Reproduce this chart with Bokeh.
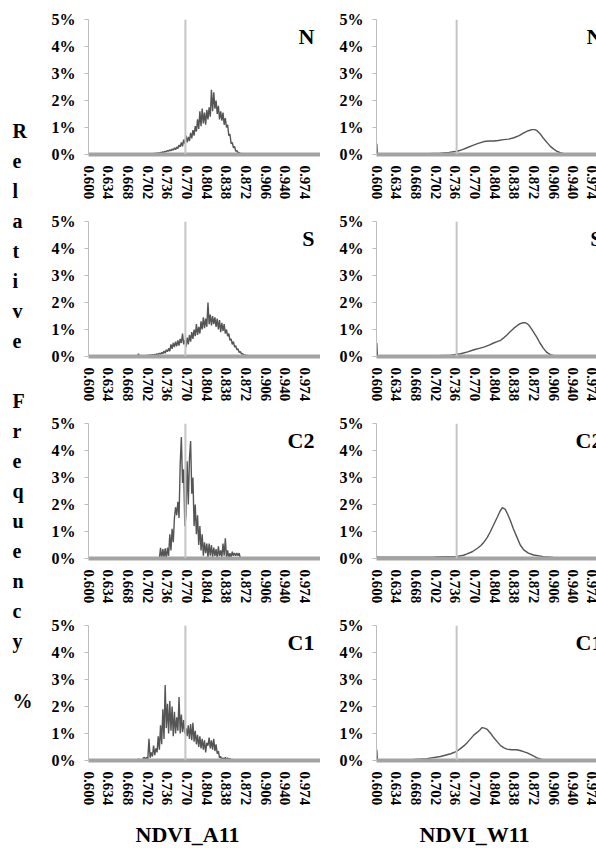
from bokeh.plotting import figure
from bokeh.layouts import row, column
from bokeh.models import Range1d, FixedTicker, PrintfTickFormatter, Span
from bokeh.core.properties import value
from bokeh.embed import file_html
from bokeh.resources import INLINE

SERIF = "Liberation Serif"

# ---------------- data ----------------
x_tick_labels = [0.600, 0.634, 0.668, 0.702, 0.736, 0.770, 0.804, 0.838, 0.872, 0.906, 0.940, 0.974]
y_tick_labels = [0, 1, 2, 3, 4, 5]
panel_names = ["N", "S", "C2", "C1"]
column_titles = ["NDVI_A11", "NDVI_W11"]
mean_a11 = 0.767
mean_w11 = 0.738
bin_step = 0.002

# NDVI_A11 (left column), relative frequency in %, bins of 0.002
a11_n_start = 0.700
a11_n = [0.03, 0.0, 0.03, 0.0, 0.03, 0.02, 0.04, 0.03, 0.05, 0.04, 0.06, 0.05, 0.08, 0.06, 0.10, 0.08,
         0.12, 0.10, 0.15, 0.12, 0.18, 0.14, 0.20, 0.16, 0.25, 0.18, 0.28, 0.22, 0.35, 0.28, 0.45, 0.30,
         0.55, 0.40, 0.70, 0.45, 0.65, 0.50, 0.80, 0.60, 0.90, 0.70, 1.05, 0.85, 1.30, 0.95, 1.60, 1.05,
         1.70, 1.15, 1.55, 1.10, 1.65, 1.30, 1.75, 1.40, 2.40, 1.60, 2.30, 1.70, 2.00, 1.50, 1.80, 1.30,
         1.60, 1.25, 1.55, 1.10, 1.35, 1.00, 1.10, 0.70, 0.75, 0.40, 0.45, 0.25, 0.30, 0.12, 0.15, 0.05,
         0.08, 0.03, 0.04, 0.02, 0.03, 0.01, 0.02, 0.0]

a11_s_start = 0.684
a11_s = [0.0, 0.10, 0.0, 0.01, 0.0, 0.02, 0.01, 0.02, 0.03, 0.05, 0.03, 0.06, 0.04, 0.07, 0.05, 0.08,
         0.06, 0.10, 0.07, 0.12, 0.08, 0.15, 0.10, 0.20, 0.12, 0.25, 0.18, 0.30, 0.20, 0.45, 0.28, 0.50,
         0.35, 0.55, 0.38, 0.60, 0.40, 0.65, 0.50, 0.85, 0.45, 0.60, 0.35, 0.70, 0.45, 0.80, 0.55, 0.90,
         0.65, 1.00, 0.75, 1.20, 0.80, 1.10, 0.85, 1.30, 1.00, 1.45, 1.05, 1.40, 1.10, 2.00, 1.20, 1.55,
         1.15, 1.50, 1.20, 1.45, 1.10, 1.40, 1.00, 1.35, 0.90, 1.25, 0.95, 1.20, 0.85, 1.00, 0.75, 0.85,
         0.60, 0.65, 0.45, 0.55, 0.35, 0.40, 0.25, 0.28, 0.15, 0.18, 0.10, 0.10, 0.05, 0.06, 0.03, 0.04,
         0.02, 0.02, 0.01, 0.01, 0.0]

a11_c2_start = 0.722
a11_c2 = [0.0, 0.40, 0.0, 0.35, 0.05, 0.38, 0.0, 0.40, 0.10, 0.90, 0.30, 1.10, 0.60, 1.50, 1.90, 1.60,
          2.10, 1.50, 3.50, 4.50, 2.80, 3.30, 1.20, 1.60, 3.60, 2.00, 3.70, 4.35, 2.40, 3.00, 1.20, 2.00,
          0.90, 1.60, 0.50, 1.20, 0.30, 0.90, 0.10, 0.60, 0.20, 0.55, 0.05, 0.55, 0.10, 0.50, 0.05, 0.40,
          0.10, 0.35, 0.0, 0.45, 0.10, 0.30, 0.05, 0.55, 0.10, 0.75, 0.05, 0.30, 0.0, 0.20, 0.05, 0.25,
          0.10, 0.20, 0.10, 0.20, 0.10, 0.20, 0.0]

a11_c1_start = 0.684
a11_c1 = [0.0, 0.06, 0.0, 0.0, 0.0, 0.08, 0.12, 0.05, 0.12, 0.05, 0.80, 0.10, 0.30, 0.15, 0.55, 0.20,
          0.45, 0.30, 0.90, 0.40, 1.30, 0.60, 1.90, 0.80, 2.80, 1.20, 2.10, 1.00, 2.20, 1.10, 2.00, 0.90,
          1.80, 1.00, 1.60, 1.10, 2.35, 1.00, 1.70, 1.05, 1.50, 1.00, 1.20, 0.90, 1.30, 0.80, 1.35, 0.75,
          1.40, 0.70, 1.10, 0.60, 0.95, 0.50, 0.90, 0.45, 0.80, 0.40, 0.75, 0.30, 0.65, 0.55, 0.85, 0.45,
          0.75, 0.40, 0.80, 0.35, 0.60, 0.25, 0.35, 0.10, 0.15, 0.03, 0.10, 0.03, 0.12, 0.02, 0.10, 0.02,
          0.08, 0.0, 0.05, 0.0, 0.03, 0.0, 0.0]

# NDVI_W11 (right column), smooth curves read at key points
w11_n_x = [0.600, 0.601, 0.640, 0.664, 0.690, 0.710, 0.725, 0.739, 0.748, 0.756, 0.765, 0.774, 0.785,
           0.795, 0.802, 0.810, 0.819, 0.828, 0.837, 0.846, 0.854, 0.862, 0.868, 0.873, 0.877, 0.883,
           0.888, 0.894, 0.900, 0.906, 0.911, 0.917, 0.923, 0.934, 0.950]
w11_n_y = [0.40, 0.0, 0.01, 0.02, 0.03, 0.05, 0.08, 0.12, 0.18, 0.25, 0.33, 0.40, 0.48,
           0.50, 0.50, 0.52, 0.55, 0.57, 0.62, 0.70, 0.80, 0.88, 0.92, 0.92, 0.88, 0.75,
           0.60, 0.45, 0.30, 0.20, 0.12, 0.07, 0.03, 0.01, 0.0]

w11_s_x = [0.600, 0.601, 0.660, 0.682, 0.705, 0.728, 0.745, 0.757, 0.768, 0.777, 0.785, 0.794, 0.802,
           0.808, 0.814, 0.820, 0.825, 0.831, 0.837, 0.843, 0.848, 0.853, 0.857, 0.861, 0.865, 0.871,
           0.877, 0.882, 0.888, 0.894, 0.900, 0.908, 0.920]
w11_s_y = [0.50, 0.0, 0.01, 0.02, 0.03, 0.05, 0.10, 0.17, 0.25, 0.30, 0.35, 0.42, 0.50,
           0.55, 0.60, 0.70, 0.80, 0.93, 1.05, 1.15, 1.22, 1.25, 1.25, 1.20, 1.10, 0.90,
           0.70, 0.50, 0.30, 0.15, 0.07, 0.02, 0.0]

w11_c2_x = [0.600, 0.601, 0.650, 0.700, 0.739, 0.750, 0.756, 0.765, 0.774, 0.780, 0.785, 0.791, 0.796,
            0.802, 0.808, 0.813, 0.817, 0.820, 0.822, 0.826, 0.831, 0.836, 0.842, 0.848, 0.854, 0.862,
            0.871, 0.888, 0.905, 0.930, 0.960]
w11_c2_y = [0.08, 0.05, 0.05, 0.06, 0.08, 0.12, 0.17, 0.25, 0.38, 0.48, 0.60, 0.78, 0.98,
            1.25, 1.52, 1.75, 1.88, 1.85, 1.82, 1.65, 1.40, 1.10, 0.80, 0.50, 0.32, 0.20,
            0.13, 0.07, 0.04, 0.02, 0.01]

w11_c1_x = [0.600, 0.601, 0.620, 0.641, 0.664, 0.687, 0.710, 0.728, 0.739, 0.745, 0.751, 0.757, 0.762,
            0.768, 0.774, 0.779, 0.782, 0.786, 0.791, 0.797, 0.802, 0.808, 0.814, 0.820, 0.825, 0.833,
            0.842, 0.851, 0.860, 0.868, 0.877, 0.884, 0.891, 0.900]
w11_c1_y = [0.40, 0.0, 0.01, 0.02, 0.04, 0.07, 0.15, 0.25, 0.35, 0.45, 0.55, 0.68, 0.80,
            0.95, 1.05, 1.15, 1.22, 1.20, 1.15, 1.00, 0.85, 0.70, 0.55, 0.47, 0.42, 0.40,
            0.40, 0.35, 0.28, 0.20, 0.10, 0.05, 0.02, 0.0]


def bins(start, vals):
    return [round(start + i * bin_step, 3) for i in range(len(vals))]


left_series = [(bins(a11_n_start, a11_n), a11_n), (bins(a11_s_start, a11_s), a11_s),
               (bins(a11_c2_start, a11_c2), a11_c2), (bins(a11_c1_start, a11_c1), a11_c1)]
right_series = [(w11_n_x, w11_n_y), (w11_s_x, w11_s_y), (w11_c2_x, w11_c2_y), (w11_c1_x, w11_c1_y)]

X0, X1 = 0.5995, 1.0005   # full category span 0.600 .. 1.000
FULL_W = 232


def panel(xs, ys, name, col):
    if col == 0:
        width, mbl, frame_w, mean = 284, 52, 232, mean_a11
    else:
        width, mbl, frame_w, mean = 276, 56, 220, mean_w11
    xr = Range1d(X0, X0 + (X1 - X0) * frame_w / FULL_W)
    p = figure(width=width, height=202, x_range=xr, y_range=Range1d(0, 5),
               output_backend="svg", toolbar_location=None,
               min_border_left=mbl, min_border_right=0, min_border_top=19, min_border_bottom=48)
    p.outline_line_color = None
    p.xgrid.visible = False
    p.ygrid.visible = False
    p.background_fill_color = "white"
    p.border_fill_color = "white"

    p.line(xs, ys, line_color="#555555", line_width=1.4)
    p.add_layout(Span(location=mean, dimension="height", line_color="#c4c4c4", line_width=2))
    p.text(x=[X1], y=[5], text=[name], x_offset=-6, y_offset=4,
           text_align="right", text_baseline="top", text_font=value(SERIF),
           text_font_style="bold", text_font_size="22px", text_color="black")

    xa = p.xaxis[0]
    xa.ticker = FixedTicker(ticks=x_tick_labels)
    xa.formatter = PrintfTickFormatter(format="%.3f")
    xa.major_label_orientation = "vertical"
    xa.axis_line_color = "#a3a3a3"
    xa.axis_line_width = 4
    xa.major_tick_line_color = None
    xa.minor_tick_line_color = None
    xa.major_label_standoff = 5
    xa.major_label_text_font = SERIF
    xa.major_label_text_font_style = "bold"
    xa.major_label_text_font_size = "15px"
    xa.major_label_text_color = "black"

    ya = p.yaxis[0]
    ya.ticker = FixedTicker(ticks=y_tick_labels)
    ya.formatter = PrintfTickFormatter(format="%d%%")
    ya.axis_line_color = "#bdbdbd"
    ya.axis_line_width = 1
    ya.major_tick_line_color = "#bdbdbd"
    ya.major_tick_out = 4
    ya.major_tick_in = 0
    ya.minor_tick_line_color = None
    ya.major_label_standoff = 9
    ya.major_label_text_font = SERIF
    ya.major_label_text_font_style = "bold"
    ya.major_label_text_font_size = "16px"
    ya.major_label_text_color = "black"
    return p


left_col = column([panel(xs, ys, n, 0) for (xs, ys), n in zip(left_series, panel_names)], spacing=0)
right_col = column([panel(xs, ys, n, 1) for (xs, ys), n in zip(right_series, panel_names)], spacing=0)

# vertical y-axis title, one letter per line
lab = figure(width=36, height=808, x_range=Range1d(0, 36), y_range=Range1d(808, 0),
             output_backend="svg", toolbar_location=None, min_border=0,
             x_axis_location=None, y_axis_location=None)
lab.outline_line_color = None
lab.xgrid.visible = False
lab.ygrid.visible = False
letters = list("Relative") + [""] + list("Frequency") + [""] + ["%"]
lab.text(x=[12] * len(letters), y=[130 + 30 * i for i in range(len(letters))], text=letters,
         text_align="left", text_baseline="middle", text_font=value(SERIF),
         text_font_style="bold", text_font_size="20px", text_color="black")

# bottom column titles
bot = figure(width=596, height=40, x_range=Range1d(0, 596), y_range=Range1d(40, 0),
             output_backend="svg", toolbar_location=None, min_border=0,
             x_axis_location=None, y_axis_location=None)
bot.outline_line_color = None
bot.xgrid.visible = False
bot.ygrid.visible = False
bot.text(x=[187, 474], y=[26, 26], text=column_titles, text_align="center", text_baseline="middle",
         text_font=value(SERIF), text_font_style="bold", text_font_size="22px", text_color="black")

layout = column(row(lab, left_col, right_col, spacing=0), bot, spacing=0)

with open("out.html", "w") as f:
    f.write(file_html(layout, INLINE))
